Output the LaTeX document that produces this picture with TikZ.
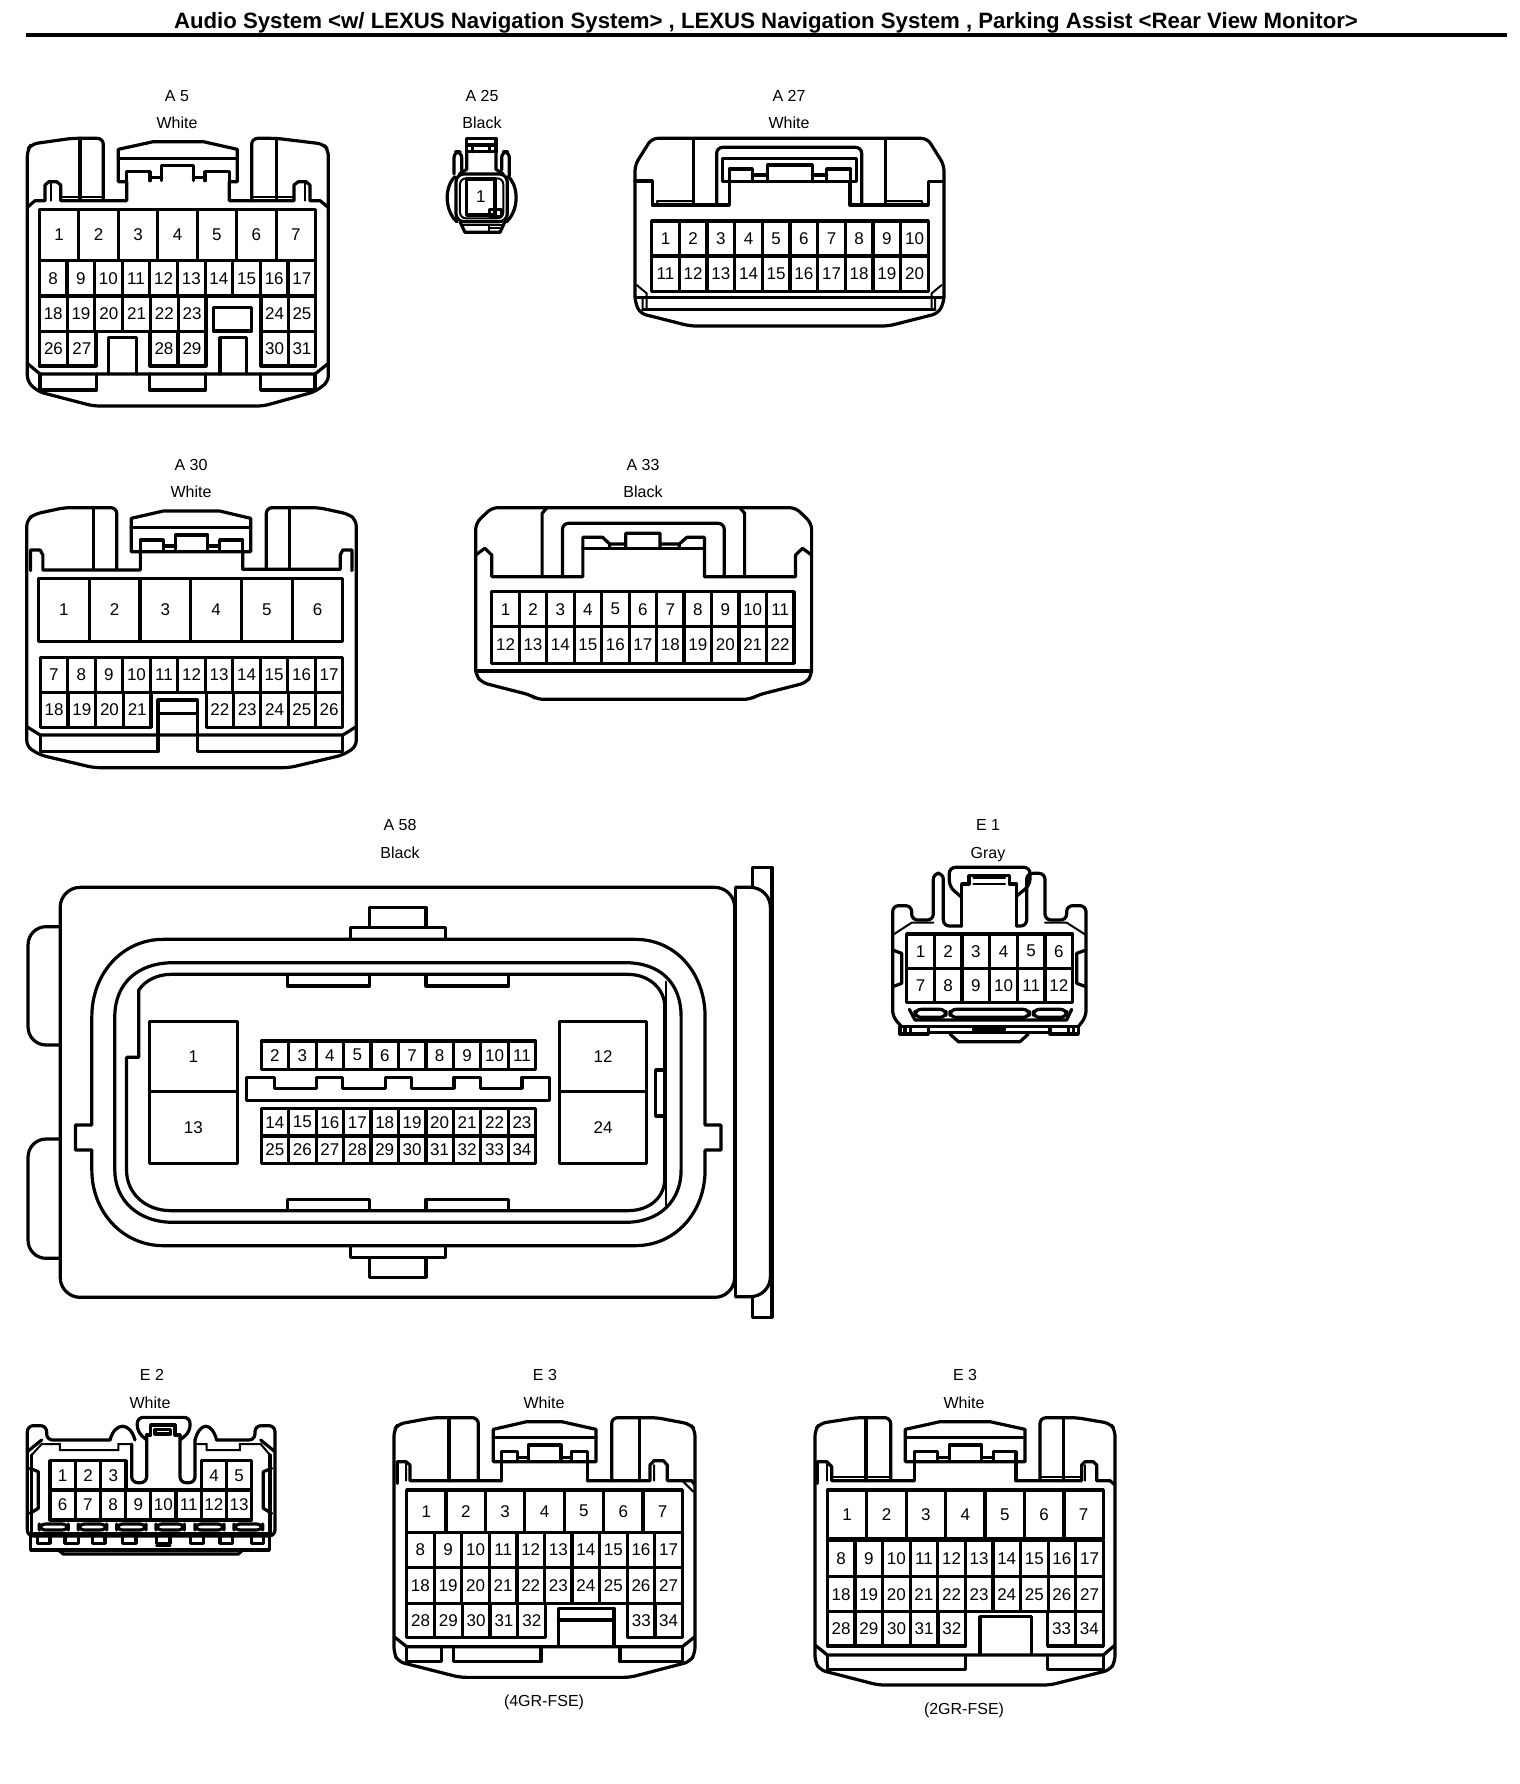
\documentclass[tikz,border=0pt]{standalone}
\usepackage{fontspec}
\setmainfont{Liberation Sans}
\tikzset{
  wire/.style={line width=1.6pt,line join=round,line cap=round},
  body/.style={wire,rounded corners=3pt},
  fine/.style={line width=1pt,line cap=round},
  pinno/.style={inner sep=0pt,font=\fontsize{8.5}{10}\selectfont},
  conlabel/.style={inner sep=0pt,font=\fontsize{8}{10}\selectfont},
}
% one row of equal cavities: first number, count, x left, x right, y top, y bottom, prefix
\newcommand{\pinrow}[7]{%
  \foreach \k in {1,...,#2}{%
    \pgfmathtruncatemacro{\num}{#1+\k-1}%
    \pgfmathsetmacro{\xa}{#3+(\k-1)*(#4-#3)/#2}%
    \pgfmathsetmacro{\xb}{#3+\k*(#4-#3)/#2}%
    \draw[wire] (\xa,#5) rectangle node[pinno] (#7-\num) {\num} (\xb,#6);
  }%
}
\begin{document}
\begin{tikzpicture}[x=0.5pt,y=-0.5pt]
\useasboundingbox (0,0) rectangle (1520,1784);

%Title
\node[inner sep=0pt,font=\bfseries\fontsize{11.1}{13}\selectfont] (title) at (766,23) {Audio System <w/ LEXUS Navigation System> , LEXUS Navigation System , Parking Assist <Rear View Monitor>};
\coordinate (ruleL) at (26,35);
\coordinate (ruleR) at (1507,35);
\draw[line width=1.8pt] (ruleL) -- (ruleR);

%Labels
\node[conlabel] (A5name) at (177,96) {A 5};
\node[conlabel] (A5col) at (177,123) {White};
\node[conlabel] (A25name) at (482,96) {A 25};
\node[conlabel] (A25col) at (482,123) {Black};
\node[conlabel] (A27name) at (789,96) {A 27};
\node[conlabel] (A27col) at (789,123) {White};
\node[conlabel] (A30name) at (191,465) {A 30};
\node[conlabel] (A30col) at (191,492) {White};
\node[conlabel] (A33name) at (643,465) {A 33};
\node[conlabel] (A33col) at (643,492) {Black};
\node[conlabel] (A58name) at (400,825) {A 58};
\node[conlabel] (A58col) at (400,853) {Black};
\node[conlabel] (E1name) at (988,825) {E 1};
\node[conlabel] (E1col) at (988,855) {Gray};
\node[conlabel] (E2name) at (152,1375) {E 2};
\node[conlabel] (E2col) at (150,1403) {White};
\node[conlabel] (E3aname) at (545,1375) {E 3};
\node[conlabel] (E3acol) at (544,1403) {White};
\node[conlabel] (E3anote) at (544,1702) {(4GR-FSE)};
\node[conlabel] (E3bname) at (965,1375) {E 3};
\node[conlabel] (E3bcol) at (964,1403) {White};
\node[conlabel] (E3bnote) at (964,1710) {(2GR-FSE)};

%Connector A5
\begin{scope}[shift={(0,70)},scale=1/3]
\draw[body] (310,392)--(310,205)--(215,205)--(95,222)--(82,240)--(82,935)--(115,965)--(280,1008)--(790,1008)--(945,965)--(985,935)--(985,240)--(970,222)--(830,205)--(755,205)--(755,392);
\draw[wire] (82,412)--(105,392)--(135,392)--(135,345)--(147,335)--(170,335)--(182,345)--(182,392)--(380,392)--(380,335);
\draw[wire] (688,335)--(688,392)--(882,392)--(882,345)--(895,335)--(918,335)--(930,345)--(930,392)--(960,392)--(985,412);
\draw[wire] (380,335)--(355,335)--(355,238)--(460,215)--(610,215)--(712,238)--(712,335)--(688,335);
\draw[wire] (355,265)--(712,265);
\draw[wire] (380,335)--(380,305)--(450,305)--(450,332) (450,322)--(485,322) (485,332)--(485,287)--(580,287)--(580,332) (580,322)--(615,322) (615,332)--(615,305)--(688,305)--(688,335);
\draw[wire] (240,205)--(240,385) (830,205)--(830,385);
\draw[fine] (188,380)--(310,380) (755,380)--(880,380) (152,340)--(152,392) (915,340)--(915,392);
\pinrow{1}{7}{118}{947}{418}{572}{A5}
\pinrow{8}{10}{118}{947}{572}{678}{A5}
\pinrow{18}{6}{118}{618}{678}{785}{A5}
\pinrow{24}{2}{783}{947}{678}{785}{A5}
\pinrow{26}{2}{118}{288}{785}{888}{A5}
\pinrow{28}{2}{450}{618}{785}{888}{A5}
\pinrow{30}{2}{783}{947}{785}{888}{A5}
\draw[wire] (640,712) rectangle (755,783);
\draw[wire] (325,912)--(325,803)--(410,803)--(410,912);
\draw[wire] (660,912)--(660,803)--(740,803)--(740,912);
\draw[wire] (82,880)--(120,912)--(945,912)--(985,880);
\draw[wire] (120,912)--(120,960)--(290,960)--(290,912);
\draw[wire] (448,912)--(448,960)--(617,960)--(617,912);
\draw[wire] (782,912)--(782,960)--(945,960)--(945,912);
\end{scope}

%Connector A25
\begin{scope}[shift={(0,70)},scale=1/3]
\draw[wire] (1400,245)--(1400,205)--(1488,205)--(1488,245);
\draw[wire] (1400,225)--(1488,225) (1418,225)--(1418,245) (1468,225)--(1468,245) (1400,245)--(1488,245);
\draw[wire] (1400,245)--(1400,298)--(1378,312) (1488,245)--(1488,298)--(1510,312);
\draw[body] (1362,312)--(1362,245)--(1385,245)--(1385,305);
\draw[body] (1505,300)--(1505,245)--(1528,245)--(1528,318);
\draw[wire,rounded corners=4pt] (1368,312) rectangle (1522,455);
\draw[fine,rounded corners=3pt] (1380,325) rectangle (1510,445);
\draw[wire] (1365,320) .. controls (1333,350) and (1333,420) .. (1370,455);
\draw[wire] (1525,320) .. controls (1557,350) and (1557,420) .. (1520,455);
\draw[wire] (1400,327) rectangle node[pinno] (A25-1) {1} (1485,435);
\draw[wire] (1468,418) rectangle (1505,440);
\draw[wire] (1380,455)--(1395,487)--(1500,487)--(1515,455);
\draw[fine] (1388,464)--(1510,464) (1468,464)--(1468,487) (1470,474)--(1505,474);
\end{scope}

%Connector A27
\begin{scope}[shift={(620,70)},scale=1/3]
\draw[body] (95,205)--(45,285)--(45,695)--(60,730)--(210,768)--(805,768)--(955,730)--(972,695)--(972,285)--(922,205)--cycle;
\draw[wire] (45,333)--(97,333)--(97,405)--(328,405)--(328,335);
\draw[wire] (690,335)--(690,405)--(925,405)--(925,335)--(972,335);
\draw[wire] (220,205)--(220,405) (797,205)--(797,405);
\draw[fine] (110,405)--(112,393)--(220,393) (797,393)--(905,393)--(908,405);
\draw[body] (290,405)--(290,232)--(725,232)--(725,405);
\draw[wire] (307,335)--(307,265)--(710,265)--(710,335)--cycle;
\draw[wire] (328,335)--(328,297)--(397,297)--(397,335);
\draw[wire] (397,315)--(442,315) (577,315)--(620,315);
\draw[wire] (442,335)--(442,285)--(577,285)--(577,335);
\draw[wire] (620,335)--(620,297)--(692,297)--(692,335);
\pinrow{1}{10}{95}{925}{453}{558}{A27}
\pinrow{11}{10}{95}{925}{558}{665}{A27}
\draw[wire] (45,683)--(972,683) (68,718)--(945,718);
\draw[fine] (50,645)--(80,670)--(80,715) (965,645)--(935,670)--(935,715) (68,683)--(68,715) (945,683)--(945,715);
\end{scope}

%Connector A30
\begin{scope}[shift={(0,440)},xscale=0.5357,yscale=1/3]
\draw[body] (218,388)--(218,203)--(120,203)--(65,222)--(50,240)--(50,920)--(75,945)--(175,983)--(540,983)--(640,945)--(665,920)--(665,240)--(650,222)--(595,203)--(497,203)--(497,388);
\draw[wire] (57,392)--(57,330)--(75,330)--(80,345)--(80,390)--(262,390)--(262,335);
\draw[wire] (453,335)--(453,388)--(635,388)--(635,345)--(640,330)--(657,330)--(657,392);
\draw[wire] (245,335)--(245,235)--(305,213)--(410,213)--(468,235)--(468,335)--cycle;
\draw[wire] (245,262)--(468,262);
\draw[wire] (262,335)--(262,300)--(305,300)--(305,328) (305,318)--(328,318) (328,328)--(328,285)--(388,285)--(388,328) (388,318)--(410,318) (410,328)--(410,300)--(453,300)--(453,335);
\draw[wire] (175,203)--(175,388) (540,203)--(540,388);
\pinrow{1}{6}{72}{640}{415}{604}{A30}
\pinrow{7}{11}{75}{640}{652}{757}{A30}
\pinrow{18}{4}{75}{282}{757}{862}{A30}
\pinrow{22}{5}{385}{640}{757}{862}{A30}
\draw[wire] (295,885)--(295,780)--(368,780)--(368,885) (295,820)--(368,820);
\draw[wire] (50,860)--(75,885)--(640,885)--(665,860);
\draw[wire] (75,885)--(75,935)--(295,935)--(295,885);
\draw[wire] (368,885)--(368,935)--(640,935)--(640,885);
\end{scope}

%Connector A33
\begin{scope}[shift={(0,440)},xscale=0.5357,yscale=1/3]
\draw[body] (918,203)--(888,250)--(888,705)--(900,728)--(990,765)--(1003,778)--(1400,778)--(1415,765)--(1505,728)--(1515,705)--(1515,250)--(1485,203)--cycle;
\draw[wire] (888,345)--(905,325)--(918,345)--(918,410)--(1088,410)--(1088,325);
\draw[wire] (1315,325)--(1315,410)--(1485,410)--(1485,345)--(1498,325)--(1515,345);
\draw[wire] (1012,410)--(1012,220)--(1020,205) (1390,410)--(1390,220)--(1382,205);
\draw[body] (1050,410)--(1050,250)--(1352,250)--(1352,410);
\draw[wire] (1088,325)--(1315,325);
\draw[wire] (1088,325)--(1088,292)--(1125,292)--(1138,312)--(1168,312) (1168,325)--(1168,280)--(1232,280)--(1232,325) (1232,312)--(1268,312)--(1282,292)--(1315,292)--(1315,325) (1138,312)--(1138,325) (1268,312)--(1268,325);
\pinrow{1}{11}{918}{1482}{455}{560}{A33}
\pinrow{12}{11}{918}{1482}{560}{670}{A33}
\draw[wire] (888,693)--(1515,693);
\end{scope}

%Connector A58
\begin{scope}[shift={(0,850)},xscale=0.5102,yscale=1/3]
\draw[wire,rounded corners=10pt] (118,112) rectangle (1440,1342);
\draw[wire,rounded corners=10pt] (1442,1340)--(1510,1340)--(1510,112)--(1442,112);
\draw[wire] (1442,112)--(1442,1340);
\draw[wire] (1475,112)--(1475,52)--(1513,52)--(1513,1402)--(1475,1402)--(1475,1340);
\draw[wire,rounded corners=9pt] (118,230)--(55,230)--(55,585)--(118,585);
\draw[wire,rounded corners=9pt] (118,867)--(55,867)--(55,1225)--(118,1225);
\draw[wire] (725,230)--(725,172)--(835,172)--(835,230);
\draw[wire] (687,265)--(687,232)--(873,232)--(873,265);
\draw[wire] (687,1190)--(687,1223)--(873,1223)--(873,1190);
\draw[wire] (725,1223)--(725,1282)--(835,1282)--(835,1223);
\draw[wire] (180,500) .. controls (180,370) and (240,268) .. (320,268) -- (1245,268) .. controls (1325,268) and (1382,370) .. (1382,500) -- (1382,825)--(1413,825)--(1413,900)--(1382,900)--(1382,960) .. controls (1382,1085) and (1325,1187) .. (1245,1187) -- (320,1187) .. controls (240,1187) and (180,1085) .. (180,960) -- (180,900)--(148,900)--(148,825)--(180,825)--cycle;
\draw[wire] (225,500) .. controls (225,400) and (270,338) .. (340,338) -- (1225,338) .. controls (1295,338) and (1335,400) .. (1335,500) -- (1335,960) .. controls (1335,1050) and (1295,1117) .. (1225,1117) -- (340,1117) .. controls (270,1117) and (225,1050) .. (225,960) -- cycle;
\draw[wire] (272,420) .. controls (285,390) and (310,373) .. (335,373) -- (1230,373) .. controls (1275,373) and (1303,420) .. (1303,470) -- (1303,985) .. controls (1303,1040) and (1275,1082) .. (1230,1082) -- (335,1082) .. controls (285,1082) and (248,1030) .. (248,960) -- (248,622)--(272,622)--cycle;
\draw[fine] (1305,395)--(1305,1065);
\draw[wire] (1303,660)--(1285,660)--(1285,798)--(1303,798);
\draw[wire] (563,375)--(563,408)--(725,408)--(725,375) (835,375)--(835,408)--(997,408)--(997,375);
\draw[wire] (563,1080)--(563,1048)--(725,1048)--(725,1080) (835,1080)--(835,1048)--(997,1048)--(997,1080);
\draw[wire] (293,515) rectangle node[pinno] (A58-1) {1} (465,725);
\draw[wire] (293,725) rectangle node[pinno] (A58-13) {13} (465,940);
\draw[wire] (1097,515) rectangle node[pinno] (A58-12) {12} (1267,725);
\draw[wire] (1097,725) rectangle node[pinno] (A58-24) {24} (1267,940);
\pinrow{2}{10}{512}{1050}{573}{658}{A58}
\pinrow{14}{10}{512}{1050}{775}{858}{A58}
\pinrow{25}{10}{512}{1050}{858}{940}{A58}
\draw[wire] (483,752)--(483,682)--(538,682)--(538,715)--(620,715)--(620,682)--(672,682)--(672,715)--(755,715)--(755,682)--(807,682)--(807,715)--(890,715)--(890,682)--(942,682)--(942,715)--(1023,715)--(1023,682)--(1077,682)--(1077,752)--cycle;
\end{scope}

%Connector E1
\begin{scope}[shift={(870,810)},scale=1/3]
\draw[body] (275,262)--(238,230)--(238,172)--(480,172)--(480,225)--(440,258);
\draw[wire] (275,348)--(275,222)--(297,222)--(297,197)--(418,197)--(418,222)--(440,222)--(440,348);
\draw[fine] (310,205)--(405,205) (310,222)--(405,222);
\draw[body] (275,348)--(220,348)--(220,190)--(190,190)--(190,330)--(125,330)--(125,287)--(68,287)--(68,620)--(95,650);
\draw[body] (440,348)--(470,348)--(470,190)--(525,190)--(525,330)--(590,330)--(590,287)--(648,287)--(648,620)--(625,650);
\draw[fine] (68,375)--(125,338)--(190,338) (648,375)--(590,338)--(525,338);
\draw[wire] (68,420)--(95,430)--(95,520)--(68,530) (648,420)--(620,430)--(620,520)--(648,530);
\pinrow{1}{6}{110}{608}{372}{475}{E1}
\pinrow{7}{6}{110}{608}{475}{578}{E1}
\draw[wire,rounded corners=3pt] (135,598) rectangle (228,622);
\draw[wire,rounded corners=3pt] (240,598) rectangle (478,622);
\draw[wire,rounded corners=3pt] (490,598) rectangle (590,622);
\draw[wire] (118,598)--(135,630)--(590,630)--(605,598);
\draw[wire] (95,650)--(625,650);
\draw[wire] (90,650)--(90,672)--(175,672)--(175,650) (105,650)--(105,672) (122,650)--(122,672);
\draw[wire] (540,650)--(540,672)--(625,672)--(625,650) (595,650)--(595,672) (610,650)--(610,672);
\draw[wire] (175,668)--(540,668);
\draw[wire] (240,672)--(265,695)--(450,695)--(475,672);
\draw[wire] (312,652) rectangle (403,660);
\end{scope}

%Connector E2
\begin{scope}[shift={(0,1360)},scale=1/3]
\draw[body] (330,240)--(140,240)--(140,197)--(82,197)--(82,528)--(825,528)--(825,197)--(765,197)--(765,240)--(650,240);
\draw[wire] (330,240) .. controls (345,185) and (390,185) .. (405,240);
\draw[wire] (585,240) .. controls (600,185) and (635,185) .. (650,240);
\draw[body] (440,240)--(412,215)--(412,172)--(570,172)--(570,215)--(540,240);
\draw[wire] (440,225)--(452,225)--(452,195)--(525,195)--(525,225)--(540,225);
\draw[wire] (465,208) rectangle (512,222);
\draw[body] (395,252)--(395,368)--(440,368)--(440,225);
\draw[body] (540,225)--(540,368)--(585,368)--(585,240);
\draw[wire] (82,275)--(125,240) (825,275)--(782,240);
\draw[fine] (95,285)--(125,252)--(180,252)--(180,270)--(355,270)--(355,252)--(395,252);
\draw[fine] (810,285)--(782,252)--(720,252)--(720,270)--(620,270)--(620,252)--(585,252);
\draw[wire] (95,285)--(95,520)--(810,520)--(810,285);
\draw[wire] (90,325)--(115,335)--(115,445)--(90,460) (815,325)--(790,335)--(790,445)--(815,460);
\pinrow{1}{3}{150}{378}{302}{390}{E2}
\pinrow{4}{2}{605}{755}{302}{390}{E2}
\pinrow{6}{8}{150}{755}{390}{480}{E2}
\foreach \xa/\xb in {118/205,235/320,350/438,468/553,585/672,702/788}{
  \draw[wire,rounded corners=3pt] (\xa,492) rectangle (\xb,510);
}
\draw[wire] (92,530)--(92,570)--(808,570)--(808,530);
\foreach \xa/\xb in {112/150,195/235,278/315,368/408,470/510,572/610,660/697,755/790}{
  \draw[wire] (\xa,530)--(\xa,550)--(\xb,550)--(\xb,530);
}
\draw[wire] (470,557)--(510,557);
\draw[wire] (175,570)--(190,582)--(715,582)--(728,570);
\end{scope}

%Connector E3 4GR
\begin{scope}[shift={(380,1370)},scale=1/3]
\draw[body] (295,332)--(295,143)--(160,143)--(55,162)--(42,180)--(42,850)--(55,875)--(240,922)--(750,922)--(930,875)--(945,850)--(945,180)--(930,162)--(830,143)--(695,143)--(695,332);
\draw[wire] (340,275)--(340,178)--(440,155)--(545,155)--(648,178)--(648,275)--cycle;
\draw[wire] (340,203)--(648,203);
\draw[wire] (365,332)--(365,245)--(413,245)--(413,272) (413,262)--(445,262) (445,272)--(445,225)--(543,225)--(543,272) (543,262)--(575,262) (575,272)--(575,245)--(622,245)--(622,332);
\draw[wire] (52,340)--(52,275)--(78,275)--(90,285)--(90,332)--(365,332);
\draw[wire] (622,332)--(810,332)--(810,285)--(822,272)--(850,272)--(862,285)--(862,332)--(935,332)--(945,345);
\draw[wire] (207,150)--(207,332) (778,145)--(778,332);
\draw[fine] (78,278)--(78,332) (822,285)--(822,332) (910,335)--(940,365);
\pinrow{1}{7}{80}{907}{360}{487}{E3a}
\pinrow{8}{10}{80}{907}{487}{592}{E3a}
\pinrow{18}{10}{80}{907}{592}{700}{E3a}
\pinrow{28}{5}{80}{497}{700}{803}{E3a}
\pinrow{33}{2}{743}{907}{700}{803}{E3a}
\draw[wire] (42,800)--(80,830)--(907,830)--(945,800);
\draw[wire] (535,828)--(535,715)--(702,715)--(702,828) (535,750)--(702,750);
\draw[wire] (80,830)--(80,875)--(185,875)--(185,830);
\draw[wire] (220,830)--(220,875)--(483,875)--(483,830);
\draw[wire] (720,830)--(720,875)--(907,875)--(907,830);
\end{scope}

%Connector E3 2GR
\begin{scope}[shift={(800,1370)},scale=1/3]
\draw[body] (272,332)--(272,143)--(170,143)--(60,160)--(45,180)--(45,875)--(60,900)--(235,945)--(750,945)--(930,900)--(945,875)--(945,180)--(930,160)--(830,143)--(720,143)--(720,332);
\draw[wire] (316,275)--(316,178)--(420,155)--(570,155)--(675,178)--(675,275)--cycle;
\draw[wire] (316,203)--(675,203);
\draw[wire] (343,332)--(343,245)--(413,245)--(413,272) (413,262)--(448,262) (448,272)--(448,225)--(545,225)--(545,272) (545,262)--(580,262) (580,272)--(580,245)--(648,245)--(648,332);
\draw[wire] (52,340)--(52,275)--(80,275)--(95,290)--(95,332)--(343,332);
\draw[wire] (648,332)--(845,332)--(845,285)--(855,275)--(880,275)--(890,285)--(890,332)--(930,332)--(945,345);
\draw[wire] (198,150)--(198,332) (790,145)--(790,332);
\draw[fine] (95,322)--(272,322) (720,322)--(845,322) (80,278)--(80,332) (855,285)--(855,332);
\pinrow{1}{7}{82}{910}{360}{507}{E3b}
\pinrow{8}{10}{82}{910}{512}{620}{E3b}
\pinrow{18}{10}{82}{910}{620}{725}{E3b}
\pinrow{28}{5}{82}{497}{725}{828}{E3b}
\pinrow{33}{2}{743}{910}{725}{828}{E3b}
\draw[wire] (45,825)--(82,855)--(910,855)--(945,825);
\draw[wire] (540,852)--(540,740)--(695,740)--(695,852);
\draw[wire] (82,855)--(82,898)--(497,898)--(497,855);
\draw[wire] (743,855)--(743,898)--(910,898)--(910,855);
\end{scope}

\end{tikzpicture}
\end{document}
